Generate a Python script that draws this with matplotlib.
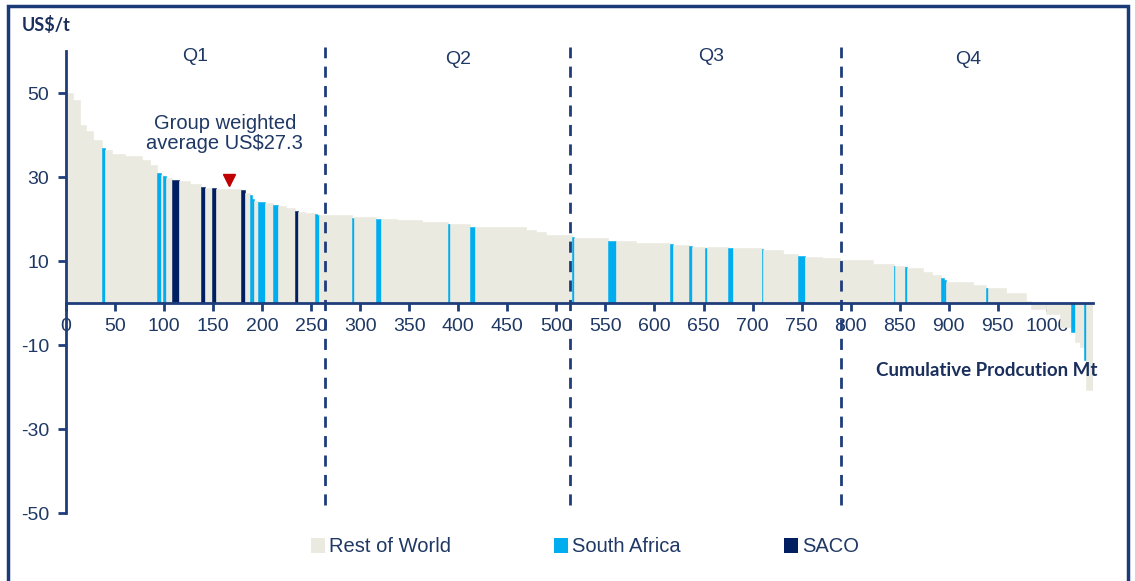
import numpy as np
import matplotlib
matplotlib.use('Agg')
import matplotlib.pyplot as plt
from matplotlib.patches import Patch, Rectangle

# -- cost curve: one bar per operation, in merit order -------------------
# width = production (Mt), cost = cash margin (US$/t), region code
widths = [7.1, 7.1, 6.1, 7.1, 9.5, 2.8, 7.1, 13.3, 17.0, 8.5,
          6.8, 4.1, 2.7, 2.8, 5.8, 7.7, 10.9, 10.9, 4.4, 6.8,
          4.1, 26.1, 3.8, 5.1, 1.7, 2.3, 4.4, 6.8, 8.5, 4.5,
          8.5, 9.2, 3.4, 6.8, 10.2, 1.7, 2.3, 33.3, 2.3, 22.4,
          4.8, 16.3, 25.5, 27.1, 1.7, 20.4, 5.1, 52.7, 9.5, 10.9,
          25.5, 2.3, 35.0, 7.8, 21.1, 34.7, 2.7, 16.0, 2.8, 13.6,
          1.7, 22.0, 5.1, 29.0, 1.6, 20.4, 15.3, 6.8, 17.3, 18.3,
          33.6, 21.4, 1.7, 10.2, 2.0, 15.9, 8.9, 9.9, 2.3, 2.8,
          27.1, 13.7, 1.6, 18.8, 20.4, 5.1, 15.3, 13.6, 11.9, 4.1,
          4.4, 4.4, 1.7, 7.4]
costs = [50.0, 48.3, 42.4, 41.0, 38.8, 36.8, 36.4, 35.5, 35.1, 34.0,
         32.9, 30.9, 30.5, 30.2, 29.7, 29.3, 29.0, 28.3, 27.7, 27.5,
         27.3, 27.1, 26.9, 26.1, 25.7, 24.8, 24.4, 24.1, 23.9, 23.3,
         23.1, 22.7, 21.9, 21.7, 21.5, 21.3, 20.9, 20.9, 20.2, 20.4,
         20.0, 20.0, 19.8, 19.4, 18.9, 18.7, 18.0, 18.0, 17.4, 16.8,
         16.3, 15.6, 15.4, 14.8, 14.8, 14.4, 14.0, 13.8, 13.6, 13.4,
         13.0, 13.3, 13.0, 13.0, 12.9, 12.6, 11.7, 11.2, 11.0, 10.6,
         10.2, 9.4, 8.9, 8.8, 8.65, 8.25, 7.4, 6.7, 6.0, 5.5,
         5.1, 4.3, 3.6, 3.5, 2.45, 0.5, -1.4, -2.5, -5.6, -6.8,
         -9.2, -10.4, -13.6, -20.7]
regions = list('RRRRRSRRRR'
               'RSRSRCRRCR'
               'CRCRSSRSRS'
               'RRCRRSSRSR'
               'SRRRSRSRRR'
               'RSRSRRSRSR'
               'SRSRSRRSRR'
               'RRSRSRRRSS'
               'RRSRRRRRRS'
               'RRSR')

quartiles = [264, 514, 790]
quartile_labels = ['Q1', 'Q2', 'Q3', 'Q4']
quartile_label_x = [132, 400, 658, 920]
quartile_label_y = [58.6, 57.9, 58.6, 57.9]

group_avg_x = 166
group_avg = 27.3

region_names = {'R': 'Rest of World', 'S': 'South Africa', 'C': 'SACO'}
region_colors = {'R': '#EAEAE0', 'S': '#00AEEF', 'C': '#001E60'}

navy = '#1F3D7A'
text_c = '#1F3864'
plt.rcParams['font.family'] = ['Liberation Sans', 'DejaVu Sans']
plt.rcParams['axes.unicode_minus'] = False

fig = plt.figure(figsize=(11.35, 5.81), dpi=100)
ax = fig.add_axes([66 / 1135, 1 - 513 / 581, (1093 - 66) / 1135, (513 - 51) / 581])

lefts = np.concatenate([[0], np.cumsum(widths)[:-1]])
colors = [region_colors[r] for r in regions]
ax.bar(lefts, costs, width=widths, align='edge', color=colors,
       edgecolor=colors, linewidth=0.4, zorder=2)

ax.set_xlim(0, sum(widths))
ax.set_ylim(-50, 60)

# spines: y axis on the left, x axis through zero
for s in ('top', 'right'):
    ax.spines[s].set_visible(False)
ax.spines['bottom'].set_position(('data', 0))
for s in ('left', 'bottom'):
    ax.spines[s].set_color(navy)
    ax.spines[s].set_linewidth(2)
    ax.spines[s].set_zorder(4)

ax.set_xticks(np.arange(0, 1001, 50))
ax.set_yticks([50, 30, 10, -10, -30, -50])
ax.tick_params(axis='both', colors=navy, width=2, length=6, labelsize=14,
               labelcolor=text_c)
ax.tick_params(axis='x', pad=5)
ax.tick_params(axis='y', pad=6)

for q in quartiles:
    ax.plot([q, q], [-48, 61], color=navy, lw=2, ls=(0, (4, 3)),
            clip_on=False, zorder=5)
for lab, x, y in zip(quartile_labels, quartile_label_x, quartile_label_y):
    ax.text(x, y, lab, ha='center', va='center', fontsize=14, color=text_c)

ax.plot(group_avg_x, group_avg + 2, marker='v', color='#C00000',
        markersize=9, linestyle='none', zorder=6)
ax.text(162, 40.3, 'Group weighted\naverage US$%.1f' % group_avg,
        ha='center', va='center', fontsize=14.5, color=text_c, linespacing=1.1)

ax.text(1052, -16, 'Cumulative Prodcution Mt', ha='right', va='center',
        fontsize=13.5, fontweight='bold', color='#1A2F5C',
        family=['Lato', 'DejaVu Sans'])
fig.text(22 / 1135, 1 - 25 / 581, 'US$/t', ha='left', va='center',
         fontsize=13, fontweight='bold', color='#1A2F5C',
         family=['Lato', 'DejaVu Sans'])

handles = [Patch(facecolor=region_colors[k], edgecolor='none', label=region_names[k])
           for k in ('R', 'S', 'C')]
leg = fig.legend(handles=handles, loc='center', ncol=3,
                 bbox_to_anchor=(585 / 1135, 1 - 547 / 581), frameon=False,
                 fontsize=14.5, handlelength=0.7, handleheight=0.7,
                 handletextpad=0.2, columnspacing=5.1)
for t in leg.get_texts():
    t.set_color(text_c)

# navy frame around the whole panel
fig.patches.append(Rectangle((8 / 1135, -0.02), (1128 - 8) / 1135, 1 - 6 / 581 + 0.02,
                             transform=fig.transFigure, fill=False,
                             edgecolor='#1A3A78', linewidth=2.5))

fig.savefig('out.png', dpi=100)
